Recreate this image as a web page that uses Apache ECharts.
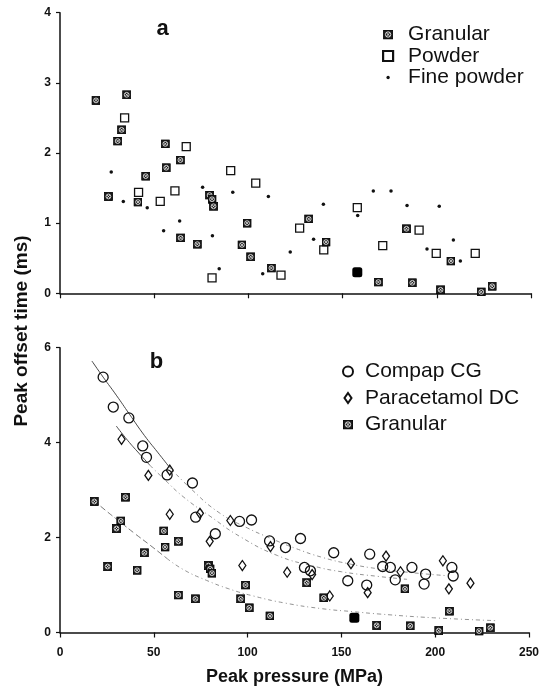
<!DOCTYPE html>
<html><head><meta charset="utf-8">
<script src="https://cdn.jsdelivr.net/npm/echarts@6/dist/echarts.min.js"></script>
<style>html,body{margin:0;padding:0;background:#fff}#c{width:542px;height:690px}</style>
</head><body><div id="c"></div>
<script>
// ---- Data (x: peak pressure MPa, y: peak offset time ms) ----
const xTicks = [0, 50, 100, 150, 200, 250];
const yTicksA = [0, 1, 2, 3, 4];
const yTicksB = [0, 2, 4, 6];

// Panel a
const granularA = [[19.1,2.75],[35.4,2.83],[32.7,2.33],[30.6,2.17],[25.7,1.38],[41.4,1.30],[45.5,1.67],[55.9,2.13],[56.4,1.79],[63.9,1.90],[64.0,0.79],[72.9,0.70],[79.4,1.40],[80.7,1.34],[81.5,1.24],[99.3,1.00],[96.6,0.69],[101.2,0.52],[112.2,0.36],[132.0,1.06],[141.2,0.73],[169.0,0.16],[183.9,0.92],[207.5,0.46],[187.0,0.15],[202.0,0.05],[223.6,0.02],[229.4,0.10]];
const granularOverlapA = [[157.8,0.30]];
const powderA = [[34.3,2.50],[67.0,2.09],[41.7,1.44],[53.2,1.31],[61.0,1.46],[80.7,0.22],[90.6,1.75],[103.9,1.57],[127.2,0.93],[140.0,0.62],[117.3,0.26],[157.8,1.22],[171.3,0.68],[190.6,0.90],[199.7,0.57],[220.4,0.57]];
const finePowderA = [[27.2,1.73],[33.6,1.31],[46.3,1.22],[55.0,0.89],[63.5,1.03],[75.7,1.51],[80.9,0.82],[84.5,0.35],[91.7,1.44],[110.6,1.38],[139.8,1.27],[134.6,0.77],[122.2,0.59],[107.6,0.28],[166.3,1.46],[158.0,1.11],[175.7,1.46],[184.2,1.25],[201.3,1.24],[208.8,0.76],[194.8,0.63],[212.5,0.46]];

// Panel b
const compapB = [[23.0,5.38],[28.4,4.75],[36.7,4.52],[44.1,3.93],[46.1,3.69],[57.1,3.32],[70.6,3.15],[72.3,2.43],[82.8,2.08],[95.7,2.34],[102.1,2.37],[111.7,1.93],[120.2,1.79],[128.2,1.98],[130.3,1.37],[133.5,1.30],[145.9,1.68],[153.4,1.09],[163.5,1.00],[165.1,1.65],[172.0,1.39],[176.1,1.37],[178.7,1.11],[187.6,1.37],[194.9,1.23],[194.1,1.02],[208.9,1.37],[209.6,1.19]];
const paracetamolB = [[32.8,4.07],[47.1,3.31],[58.5,3.42],[58.5,2.49],[74.6,2.51],[79.8,1.92],[90.8,2.36],[112.2,1.81],[97.2,1.41],[121.1,1.27],[134.4,1.22],[143.8,0.77],[155.1,1.45],[164.0,0.84],[173.8,1.61],[181.5,1.28],[204.1,1.51],[207.3,0.92],[218.8,1.04]];
const granularB = [[18.3,2.76],[34.9,2.85],[32.4,2.35],[30.1,2.19],[25.4,1.39],[41.1,1.31],[45.0,1.68],[55.3,2.14],[56.0,1.80],[63.1,1.92],[63.1,0.79],[72.2,0.71],[79.1,1.41],[80.0,1.34],[81.0,1.25],[98.9,1.00],[96.3,0.71],[100.9,0.52],[111.9,0.35],[131.5,1.05],[140.6,0.73],[168.8,0.15],[183.9,0.92],[207.6,0.45],[186.7,0.14],[201.9,0.04],[223.4,0.03],[229.4,0.10]];
const granularOverlapB = [[156.9,0.31]];

// Fitted curves in panel b
const compapFitSolid = [[17,5.72],[23,5.38],[30,5.0],[37,4.6],[45,4.15],[52,3.8],[58,3.5]];
const compapFitDash = [[58,3.5],[70,3.02],[85,2.52],[100,2.2],[112,1.99],[125,1.78],[140,1.58],[155,1.44],[170,1.34],[185,1.27],[205,1.2]];
const paraFitSolid = [[30,4.35],[36,4.05],[42,3.78],[48,3.52]];
const paraFitDash = [[48,3.52],[55,3.25],[66,2.85],[80,2.45],[96,2.02],[116,1.62],[135,1.4],[150,1.28],[170,1.18],[185,1.12]];
const granFitDash = [[18,2.78],[25,2.55],[32,2.33],[40,2.08],[48,1.84],[57,1.56]];
const granFitDot = [[57,1.56],[66,1.32],[78,1.1],[90,0.92],[103,0.77],[120,0.62],[140,0.5],[156,0.44],[170,0.39],[199,0.31],[232,0.25]];

// ---- Styling ----
const FONT = '"Liberation Sans", Arial, Helvetica, sans-serif';
const INK = '#111';
const granSvg = '<svg xmlns="http://www.w3.org/2000/svg" width="18" height="18" viewBox="0 0 9 9"><rect x="0.4" y="0.4" width="8.2" height="8.2" fill="#1a1a1a" stroke="#000" stroke-width="0.8"/><circle cx="4.5" cy="4.5" r="2.4" fill="none" stroke="#ffffff" stroke-width="0.75"/><path d="M3 3L6 6M6 3L3 6" stroke="#ffffff" stroke-width="0.75"/></svg>';
const granIcon = 'image://data:image/svg+xml;charset=utf-8,' + encodeURIComponent(granSvg);
const dotSvg = '<svg xmlns="http://www.w3.org/2000/svg" width="18" height="18" viewBox="0 0 9 9"><circle cx="4.5" cy="4.5" r="1.5" fill="#111"/></svg>';
const dotIcon = 'image://data:image/svg+xml;charset=utf-8,' + encodeURIComponent(dotSvg);
const diamondIcon = 'path://M3.5 0L7 5L3.5 10L0 5Z';

function xAxis(grid, labels) {
  return {
    gridIndex: grid, type: 'value', min: xTicks[0], max: xTicks[xTicks.length-1], interval: 50,
    axisLine: {show: true, onZero: false, lineStyle: {color: INK, width: 1.5}},
    axisTick: {show: true, length: 5, lineStyle: {color: INK, width: 1.2}},
    axisLabel: {show: labels, fontSize: 12, fontWeight: 'bold', color: INK, fontFamily: FONT, margin: 14},
    splitLine: {show: false},
    name: labels ? 'Peak pressure (MPa)' : '', nameLocation: 'middle', nameGap: 36,
    nameTextStyle: {fontSize: 18, fontWeight: 'bold', color: INK, fontFamily: FONT}
  };
}
function yAxis(grid, ticks) {
  return {
    gridIndex: grid, type: 'value', min: ticks[0], max: ticks[ticks.length-1], interval: ticks[1]-ticks[0],
    axisLine: {show: true, onZero: false, lineStyle: {color: INK, width: 1.5}},
    axisTick: {show: true, length: 4, lineStyle: {color: INK, width: 1.2}},
    axisLabel: {fontSize: 12, fontWeight: 'bold', color: INK, fontFamily: FONT, margin: 9},
    splitLine: {show: false}
  };
}
function fit(data, type, color, width) {
  return {type: 'line', xAxisIndex: 1, yAxisIndex: 1, data: data, smooth: true, symbol: 'none', silent: true, z: 1,
    lineStyle: {color: color, width: width, type: type}};
}
const openStyle = {color: 'rgba(0,0,0,0)', borderColor: INK, borderWidth: 1.3, opacity: 1};

const chart = echarts.init(document.getElementById('c'), null, {renderer: 'canvas'});
chart.setOption({
  animation: false,
  backgroundColor: '#fff',
  grid: [
    {left: 60, top: 12.7, width: 471, height: 280.6},
    {left: 60, top: 347.7, width: 471, height: 284.8}
  ],
  xAxis: [xAxis(0, false), xAxis(1, true)],
  yAxis: [yAxis(0, yTicksA), yAxis(1, yTicksB)],
  legend: [
    {orient: 'vertical', left: 377, top: 19, itemWidth: 10, itemHeight: 10, itemGap: 0.5, selectedMode: false, symbolKeepAspect: true,
     textStyle: {fontSize: 21, color: INK, fontFamily: FONT, padding: [0, 0, 0, 10]},
     data: [{name: 'Granular'}, {name: 'Powder', itemStyle: {borderWidth: 2.2}}, {name: 'Fine powder', icon: dotIcon}]},
    {orient: 'vertical', left: 337, top: 356, itemWidth: 10, itemHeight: 10, itemGap: 5.5, selectedMode: false, symbolKeepAspect: true,
     textStyle: {fontSize: 21, color: INK, fontFamily: FONT, padding: [0, 0, 0, 7]},
     data: [{name: 'Compap CG'}, {name: 'Paracetamol DC', icon: diamondIcon}, {name: 'Granular'}]}
  ],
  graphic: [
    {type: 'text', x: 162.5, y: 29, style: {text: 'a', fontSize: 22, fontWeight: 'bold', fontFamily: FONT, fill: INK, textAlign: 'center', textVerticalAlign: 'middle'}},
    {type: 'text', x: 156.5, y: 362, style: {text: 'b', fontSize: 22, fontWeight: 'bold', fontFamily: FONT, fill: INK, textAlign: 'center', textVerticalAlign: 'middle'}},
    {type: 'text', x: 22, y: 331, rotation: Math.PI / 2, style: {text: 'Peak offset time (ms)', fontSize: 19, fontWeight: 'bold', fontFamily: FONT, fill: INK, textAlign: 'center', textVerticalAlign: 'middle'}}
  ],
  series: [
    // panel a
    {name: 'Granular', type: 'scatter', xAxisIndex: 0, yAxisIndex: 0, data: granularA, symbol: granIcon, symbolSize: 9, itemStyle: {opacity: 1}, z: 3},
    {name: 'Granular overlap a', type: 'scatter', xAxisIndex: 0, yAxisIndex: 0, data: granularOverlapA, symbol: 'roundRect', symbolSize: 10, itemStyle: {color: '#000', opacity: 1}, z: 3},
    {name: 'Powder', type: 'scatter', xAxisIndex: 0, yAxisIndex: 0, data: powderA, symbol: 'rect', symbolSize: 8, itemStyle: openStyle, z: 3},
    {name: 'Fine powder', type: 'scatter', xAxisIndex: 0, yAxisIndex: 0, data: finePowderA, symbol: 'circle', symbolSize: 3.5, itemStyle: {color: INK, opacity: 1}, z: 3},
    // panel b fits
    fit(compapFitSolid, 'solid', '#333', 0.9),
    fit(compapFitDash, [4, 3, 1, 3], '#777', 0.8),
    fit(paraFitSolid, 'solid', '#333', 0.9),
    fit(paraFitDash, [4, 3, 1, 3], '#777', 0.8),
    fit(granFitDash, [6, 3], '#555', 0.8),
    fit(granFitDot, [4, 3, 1, 3], '#777', 0.8),
    // panel b points
    {name: 'Compap CG', type: 'scatter', xAxisIndex: 1, yAxisIndex: 1, data: compapB, symbol: 'circle', symbolSize: 10, itemStyle: openStyle, z: 3},
    {name: 'Paracetamol DC', type: 'scatter', xAxisIndex: 1, yAxisIndex: 1, data: paracetamolB, symbol: 'diamond', symbolSize: [7, 10], itemStyle: openStyle, z: 3},
    {name: 'Granular', type: 'scatter', xAxisIndex: 1, yAxisIndex: 1, data: granularB, symbol: granIcon, symbolSize: 9, itemStyle: {opacity: 1}, z: 3},
    {name: 'Granular overlap b', type: 'scatter', xAxisIndex: 1, yAxisIndex: 1, data: granularOverlapB, symbol: 'roundRect', symbolSize: 10, itemStyle: {color: '#000', opacity: 1}, z: 3}
  ]
});
</script>
</body></html>
